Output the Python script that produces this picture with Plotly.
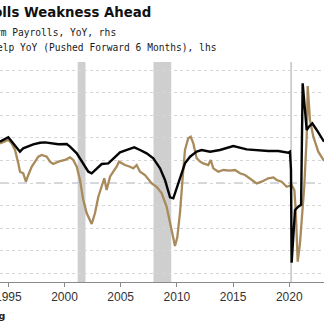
import plotly.graph_objects as go

# Nonfarm payrolls YoY (%), right-hand axis
nfp_years = [1994.26, 1995.00, 1996.04, 1996.33, 1997.22, 1997.82, 1998.27, 1998.71, 1999.45, 2000.20,
             2000.49, 2001.09, 2001.67, 2002.12, 2002.42, 2002.86, 2003.31, 2003.90, 2004.49, 2004.94,
             2005.68, 2006.21, 2006.72, 2007.31, 2007.90, 2008.50, 2008.94, 2009.39, 2009.68, 2010.12,
             2010.43, 2010.72, 2011.17, 2011.76, 2012.21, 2012.95, 2013.83, 2015.02, 2016.21, 2017.33,
             2018.13, 2019.02, 2019.91, 2020.06, 2020.15, 2020.21, 2020.51, 2020.80, 2020.95, 2021.05,
             2021.19, 2021.33, 2021.55, 2021.75, 2022.05, 2022.44, 2022.88, 2023.09]
nfp_values = [2.48, 3.07, 1.16, 1.61, 2.14, 2.35, 2.40, 2.27, 2.14, 2.18,
              1.82, 0.94, -0.39, -1.50, -1.71, -1.05, -0.48, -0.39, 0.49, 1.08,
              1.47, 1.74, 1.38, 0.94, 0.28, -1.05, -2.60, -4.90, -5.03, -3.04,
              -1.50, -0.39, 0.49, 1.16, 1.38, 1.16, 1.38, 1.91, 1.47, 1.29,
              1.25, 1.25, 1.02, 1.16, -1.27, -13.59, -6.59, -6.15, -6.06, -5.9,
              10.24, 7.58, 4.04, 4.48, 4.93, 4.04, 2.93, 2.48]

# Help wanted YoY (%), pushed forward 6 months, left-hand axis
help_years = [1994.26, 1994.71, 1995.00, 1995.30, 1995.60, 1995.89, 1996.04, 1996.33, 1996.57, 1996.78,
              1997.08, 1997.38, 1997.67, 1997.97, 1998.42, 1998.71, 1999.00, 1999.45, 2000.05, 2000.49,
              2000.78, 2001.09, 2001.38, 2001.67, 2001.98, 2002.42, 2002.71, 2003.01, 2003.31, 2003.54,
              2003.75, 2004.05, 2004.34, 2004.64, 2004.85, 2005.14, 2005.38, 2005.83, 2006.12, 2006.42,
              2006.72, 2007.16, 2007.76, 2008.20, 2008.65, 2009.09, 2009.54, 2009.83, 2010.04, 2010.28,
              2010.52, 2010.72, 2011.01, 2011.23, 2011.46, 2011.76, 2012.06, 2012.35, 2012.79, 2013.01,
              2013.24, 2013.68, 2014.13, 2014.72, 2015.17, 2015.61, 2016.06, 2016.65, 2017.10, 2017.54,
              2018.13, 2018.58, 2018.88, 2019.32, 2019.77, 2020.21, 2020.45, 2020.57, 2020.66, 2020.75,
              2020.95, 2021.10, 2021.33, 2021.55, 2021.64, 2021.84, 2022.14, 2022.58, 2022.88, 2023.09]
help_values = [35.1, 36.6, 38.1, 35.1, 29.2, 17.4, 10.0, 8.6, 1.2, 7.1,
               14.4, 18.9, 23.3, 24.8, 23.3, 18.9, 16.8, 18.9, 20.4, 22.7,
               20.4, 14.4, 2.7, -15.0, -26.8, -36.3, -26.8, -12.1, -3.3, 4.2,
               -6.2, 5.6, 10.0, 14.4, 18.9, 17.4, 15.9, 14.4, 13.0, 15.9,
               10.0, 7.1, -0.3, -3.3, -9.1, -21.0, -41.6, -55.8, -47.8, -25.7,
               5.6, 29.2, 39.6, 41.0, 35.1, 21.9, 18.9, 17.4, 15.9, 20.4,
               13.0, 10.0, 11.5, 10.9, 11.5, 8.6, 7.1, 2.7, -0.3, 1.2,
               4.2, 5.0, 2.7, 1.2, -3.3, -1.8, -6.2, -23.9, -59.3, -69.6,
               -53.4, -32.7, -3.3, 41.0, 85.8, 55.8, 41.0, 27.7, 22.1, 19.5]

# Recessions (start, end)
recession_starts = [2001.17, 2007.92, 2020.08]
recession_ends = [2001.87, 2009.50, 2020.25]

tick_years = [1995, 2000, 2005, 2010, 2015, 2020]
tick_labels = ["1995", "2000", "2005", "2010", "2015", "2020"]

BLACK = "#050505"
GOLD = "#a98a5b"

fig = go.Figure()
fig.add_trace(go.Scatter(x=help_years, y=help_values, mode="lines",
                         line=dict(color=GOLD, width=2.3), yaxis="y",
                         showlegend=False, hoverinfo="skip"))
fig.add_trace(go.Scatter(x=nfp_years, y=nfp_values, mode="lines",
                         line=dict(color=BLACK, width=2.4), yaxis="y2",
                         showlegend=False, hoverinfo="skip"))

shapes = []
for s, e in zip(recession_starts, recession_ends):
    shapes.append(dict(type="rect", xref="x", yref="paper", x0=s, x1=e, y0=0, y1=1,
                       fillcolor="#cfcfcf", line=dict(width=0), layer="below"))
shapes.append(dict(type="line", xref="paper", yref="y", x0=0, x1=1, y0=0, y1=0,
                   line=dict(color="#aab2bf", width=1, dash="dash"), layer="below"))
fig.update_layout(shapes=shapes)

fig.update_layout(
    width=324, height=326,
    margin=dict(l=0, r=0, t=62, b=44, autoexpand=False),
    paper_bgcolor="white", plot_bgcolor="white",
    xaxis=dict(range=[1994.262, 2023.088], tickvals=tick_years, ticktext=tick_labels,
               showgrid=False, zeroline=False, showline=True, linecolor="#8a8a8a", linewidth=1,
               ticks="outside", ticklen=4, tickcolor="#8a8a8a", ticklabeloverflow="allow",
               automargin=False,
               tickfont=dict(family="Liberation Sans, Arial, sans-serif", size=12, color="#333333")),
    yaxis=dict(range=[-87.6, 107.1], dtick=20, tick0=0, showticklabels=False, ticks="",
               showgrid=True, gridcolor="#d6d6d6", griddash="dot", gridwidth=1,
               zeroline=False, showline=False, automargin=False),
    yaxis2=dict(range=[-16.15, 13.07], overlaying="y", side="right", showticklabels=False,
                showgrid=False, zeroline=False, showline=False, ticks="", automargin=False),
    annotations=[
        dict(text="<b>Payrolls Weakness Ahead</b>", xref="paper", yref="paper",
             x=153/324, y=1.225, xanchor="right", yanchor="middle", showarrow=False,
             font=dict(family="DejaVu Sans", size=13.3, color="#111111")),
        dict(text="Nonfarm Payrolls, YoY, rhs", xref="paper", yref="paper",
             x=118/324, y=1.136, xanchor="right", yanchor="middle", showarrow=False,
             font=dict(family="DejaVu Sans Mono", size=9.6, color="#1a1a1a")),
        dict(text="Conference Board Help YoY (Pushed Forward 6 Months), lhs", xref="paper", yref="paper",
             x=218/324, y=1.065, xanchor="right", yanchor="middle", showarrow=False,
             font=dict(family="DejaVu Sans Mono", size=9.6, color="#1a1a1a")),
        dict(text="<b>Source: Bloomberg</b>", xref="paper", yref="paper",
             x=6.5/324, y=-0.1545, xanchor="right", yanchor="middle", showarrow=False,
             font=dict(family="DejaVu Sans", size=9.5, color="#222222")),
    ],
)

fig.write_html("out.html")
